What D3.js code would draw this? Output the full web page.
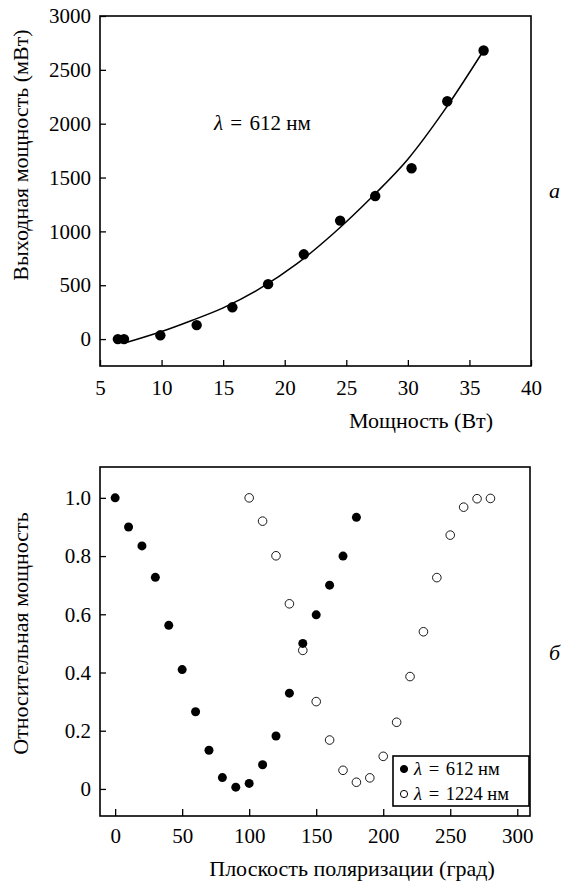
<!DOCTYPE html>
<html>
<head>
<meta charset="utf-8">
<script src="https://cdn.jsdelivr.net/npm/d3@7/dist/d3.min.js"></script>
<style>
  body { margin: 0; background: #fff; }
  .axis path { display: none; }
  .axis line { stroke: #000; stroke-width: 1.3px; }
</style>
</head>
<body>
<div id="chart"></div>
<script>
// Panel a: output power vs pump power (lambda = 612 nm)
var powerW   = [6.45, 6.95, 9.9, 12.85, 15.75, 18.65, 21.55, 24.5, 27.35, 30.3, 33.2, 36.15],
    outputMW = [0, 0, 35, 130, 295, 510, 787, 1100, 1328, 1586, 2208, 2680];
// fitted curve
var fitW  = [7.2, 10, 12.5, 15, 18, 21, 24, 27, 30, 33, 36.15],
    fitMW = [-30, 70, 175, 290, 470, 700, 985, 1310, 1670, 2130, 2680];
var xTicksA = [5, 10, 15, 20, 25, 30, 35, 40],
    yTicksA = [0, 500, 1000, 1500, 2000, 2500, 3000];

// Panel б: relative power vs polarisation plane angle
var angle612  = [0, 10, 20, 30, 40, 50, 60, 70, 80, 90, 100, 110, 120, 130, 140, 150, 160, 170, 180],
    power612  = [1.0, 0.90, 0.835, 0.727, 0.562, 0.41, 0.265, 0.133, 0.039, 0.006, 0.019, 0.083, 0.182, 0.329, 0.50, 0.598, 0.70, 0.80, 0.933];
var angle1224 = [100, 110, 120, 130, 140, 150, 160, 170, 180, 190, 200, 210, 220, 230, 240, 250, 260, 270, 280],
    power1224 = [1.0, 0.92, 0.801, 0.636, 0.476, 0.30, 0.168, 0.064, 0.023, 0.038, 0.112, 0.229, 0.386, 0.54, 0.726, 0.872, 0.968, 0.997, 0.998];
var xTicksB = [0, 50, 100, 150, 200, 250, 300],
    yTicksB = [0, 0.2, 0.4, 0.6, 0.8, 1.0];
var legendLabels = ["612", "1224"];

var width = 563, height = 884,
    serif = "Liberation Serif";

var svg = d3.select("#chart").append("svg")
    .attr("width", width)
    .attr("height", height);

// every text gets the serif face explicitly (axis sets sans-serif on its group)
function serifText(sel, size) {
  sel.selectAll("text")
      .attr("font-family", serif)
      .attr("font-size", size)
      .attr("fill", "#000");
}

// "λ = 612 нм" with the lambda in italics
function lambdaText(sel, value) {
  sel.append("tspan").attr("font-style", "italic").text("λ");
  sel.append("tspan").attr("dx", 2).text(" = ");
  sel.append("tspan").attr("dx", 2).text(value + " нм");
}

// ---------- panel a ----------
var boxA = {left: 100, right: 531, top: 16, bottom: 366};

var xA = d3.scaleLinear().domain([5, 40]).range([boxA.left, boxA.right]);
var yA = d3.scaleLinear().domain([-250, 3000]).range([boxA.bottom, boxA.top]);

var gA = svg.append("g").attr("class", "panel-a");

gA.append("g")
    .attr("class", "axis")
    .attr("transform", "translate(0," + boxA.bottom + ")")
    .call(d3.axisBottom(xA).tickValues(xTicksA).tickSizeInner(-6).tickSizeOuter(0).tickPadding(14)
      .tickFormat(d3.format("d")))
    .call(serifText, 21);

gA.append("g")
    .attr("class", "axis")
    .attr("transform", "translate(" + boxA.left + ",0)")
    .call(d3.axisLeft(yA).tickValues(yTicksA).tickSizeInner(-6).tickSizeOuter(0).tickPadding(9)
      .tickFormat(d3.format("d")))
    .call(serifText, 21);

gA.append("rect")
    .attr("x", boxA.left).attr("y", boxA.top)
    .attr("width", boxA.right - boxA.left).attr("height", boxA.bottom - boxA.top)
    .attr("fill", "none").attr("stroke", "#000").attr("stroke-width", 1.6);

var line = d3.line()
    .x(function(d, i) { return xA(fitW[i]); })
    .y(function(d) { return yA(d); })
    .curve(d3.curveMonotoneX);

gA.append("path")
    .attr("d", line(fitMW))
    .attr("fill", "none").attr("stroke", "#000").attr("stroke-width", 1.5);

gA.selectAll("circle.pt")
    .data(outputMW)
    .enter()
    .append("circle")
      .attr("class", "pt")
      .attr("cx", function(d, i) { return xA(powerW[i]); })
      .attr("cy", function(d) { return yA(d); })
      .attr("r", 5.2)
      .attr("fill", "#000");

gA.append("text")
    .attr("x", 214).attr("y", 130)
    .attr("font-family", serif)
    .attr("font-size", 21)
    .call(lambdaText, "612");

var labels = svg.append("g").attr("class", "labels");

labels.append("text")
    .attr("transform", "translate(28," + ((boxA.top + boxA.bottom) / 2 - 36) + ") rotate(-90)")
    .attr("text-anchor", "middle")
    .text("Выходная мощность (мВт)");

labels.append("text")
    .attr("x", 421).attr("y", 428)
    .attr("text-anchor", "middle")
    .text("Мощность (Вт)");

labels.append("text")
    .attr("x", 549).attr("y", 198)
    .attr("font-style", "italic")
    .text("а");

// ---------- panel б ----------
var boxB = {left: 100, right: 530, top: 467, bottom: 816};

var xB = d3.scaleLinear().domain([-11.3, 309.5]).range([boxB.left, boxB.right]);
var yB = d3.scaleLinear().domain([-0.093, 1.106]).range([boxB.bottom, boxB.top]);

var gB = svg.append("g").attr("class", "panel-b");

gB.append("g")
    .attr("class", "axis")
    .attr("transform", "translate(0," + boxB.bottom + ")")
    .call(d3.axisBottom(xB).tickValues(xTicksB).tickSizeInner(-7).tickSizeOuter(0).tickPadding(12))
    .call(serifText, 21);

gB.append("g")
    .attr("class", "axis")
    .attr("transform", "translate(" + boxB.left + ",0)")
    .call(d3.axisLeft(yB).tickValues(yTicksB).tickSizeInner(-6).tickSizeOuter(0).tickPadding(9)
      .tickFormat(function(d) { return d === 0 ? "0" : d.toFixed(1); }))
    .call(serifText, 21);

gB.append("rect")
    .attr("x", boxB.left).attr("y", boxB.top)
    .attr("width", boxB.right - boxB.left).attr("height", boxB.bottom - boxB.top)
    .attr("fill", "none").attr("stroke", "#000").attr("stroke-width", 1.6);

gB.selectAll("circle.open")
    .data(power1224)
    .enter()
    .append("circle")
      .attr("class", "open")
      .attr("cx", function(d, i) { return xB(angle1224[i]); })
      .attr("cy", function(d) { return yB(d); })
      .attr("r", 4.3)
      .attr("fill", "#fff").attr("stroke", "#000").attr("stroke-width", 0.9);

gB.selectAll("circle.filled")
    .data(power612)
    .enter()
    .append("circle")
      .attr("class", "filled")
      .attr("cx", function(d, i) { return xB(angle612[i]); })
      .attr("cy", function(d) { return yB(d); })
      .attr("r", 4.5)
      .attr("fill", "#000");

// legend
var leg = gB.append("g").attr("transform", "translate(393,756)");
leg.append("rect")
    .attr("width", boxB.right - 1 - 393).attr("height", 50)
    .attr("fill", "#fff").attr("stroke", "#000").attr("stroke-width", 1.6);

var rows = leg.selectAll("g.row")
    .data(legendLabels)
    .enter()
    .append("g")
      .attr("class", "row")
      .attr("transform", function(d, i) { return "translate(0," + (13 + i * 25) + ")"; });

rows.append("circle")
    .attr("cx", 11).attr("cy", 0).attr("r", 3.6)
    .attr("fill", function(d, i) { return i === 0 ? "#000" : "#fff"; })
    .attr("stroke", "#000").attr("stroke-width", 1);

rows.append("text")
    .attr("x", 21).attr("y", 6)
    .attr("font-family", serif)
    .attr("font-size", 18.5)
    .each(function(d) { d3.select(this).call(lambdaText, d); });

labels.append("text")
    .attr("transform", "translate(28," + ((boxB.top + boxB.bottom) / 2 - 8) + ") rotate(-90)")
    .attr("text-anchor", "middle")
    .text("Относительная мощность");

labels.append("text")
    .attr("x", 352).attr("y", 876)
    .attr("text-anchor", "middle")
    .text("Плоскость поляризации (град)");

labels.append("text")
    .attr("x", 549).attr("y", 660)
    .attr("font-style", "italic")
    .text("б");

labels.call(serifText, 22);
</script>
</body>
</html>
